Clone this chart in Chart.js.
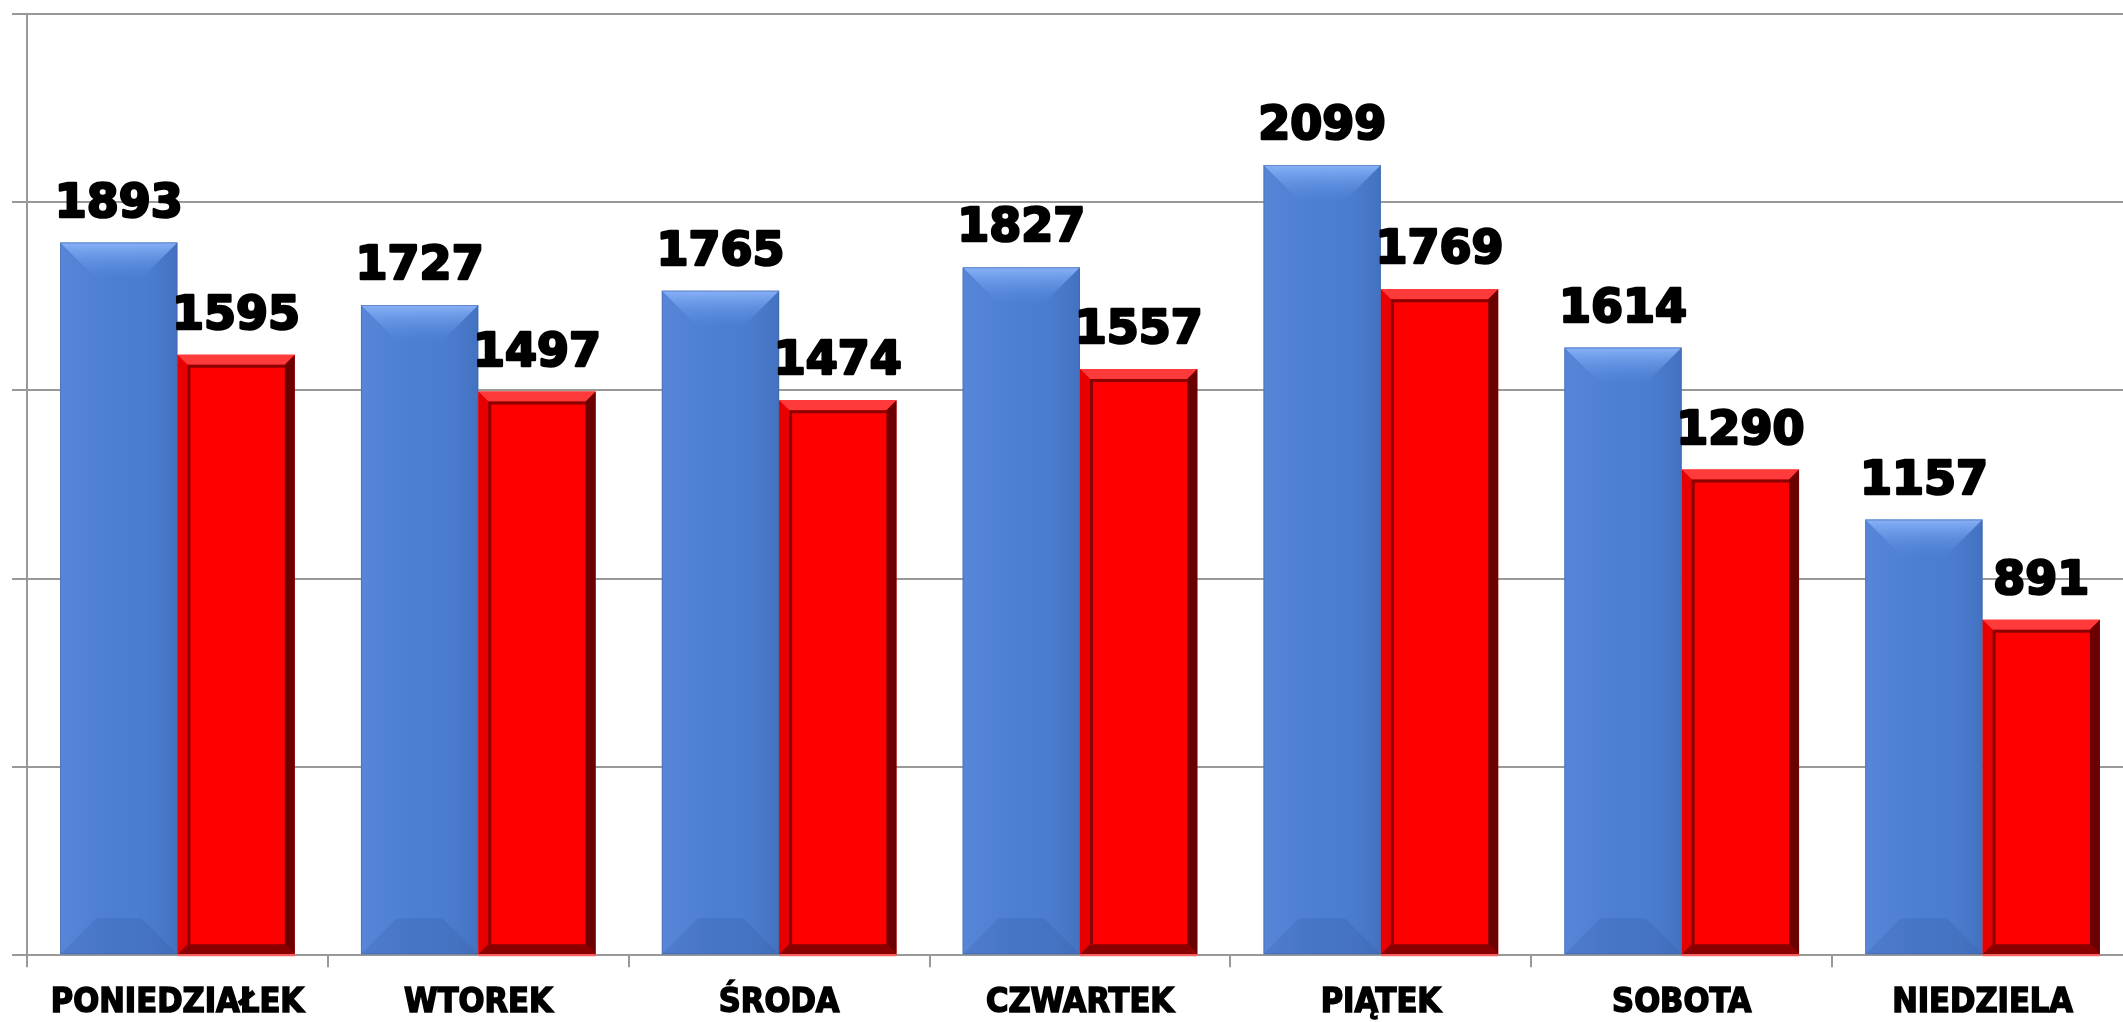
<!DOCTYPE html>
<html>
<head>
<meta charset="utf-8">
<script src="https://cdn.jsdelivr.net/npm/chart.js@4"></script>
<style>
  body { margin: 0; overflow: hidden; background: #fff; }
  #wrap { width: 2140px; height: 1041px; position: relative; }
</style>
</head>
<body>
<div id="wrap"><canvas id="myChart"></canvas></div>
<script>
const days = ["PONIEDZIAŁEK", "WTOREK", "ŚRODA", "CZWARTEK", "PIĄTEK", "SOBOTA", "NIEDZIELA"];
const blueValues = [1893, 1727, 1765, 1827, 2099, 1614, 1157];
const redValues = [1595, 1497, 1474, 1557, 1769, 1290, 891];

const poly = (ctx, pts, fill) => {
  ctx.fillStyle = fill;
  ctx.beginPath();
  pts.forEach((pt, k) => k ? ctx.lineTo(pt[0], pt[1]) : ctx.moveTo(pt[0], pt[1]));
  ctx.closePath();
  ctx.fill();
};

// draws the bevel look on top of plain bars
const bevelPlugin = {
  id: "bevel",
  afterDatasetsDraw(chart) {
    const ctx = chart.ctx;
    chart.data.datasets.forEach((ds, i) => {
      chart.getDatasetMeta(i).data.forEach(bar => {
        const p = bar.getProps(["x", "y", "base", "width"], true);
        const l = p.x - p.width / 2, r = p.x + p.width / 2, t = p.y, b = p.base;
        ctx.save();
        if (i === 0) {
          const d = 36;
          // soft left-to-right shading
          let h = ctx.createLinearGradient(l, 0, r, 0);
          h.addColorStop(0, "rgba(110,150,230,0.35)");
          h.addColorStop(0.5, "rgba(110,150,230,0)");
          h.addColorStop(1, "rgba(30,60,120,0.18)");
          ctx.fillStyle = h;
          ctx.fillRect(l, t, p.width, b - t);
          // top face
          let g = ctx.createLinearGradient(0, t, 0, t + d);
          g.addColorStop(0, "#88b2f8");
          g.addColorStop(1, "rgba(90,140,225,0.05)");
          poly(ctx, [[l, t], [r, t], [r - d, t + d], [l + d, t + d]], g);
          // bottom face
          poly(ctx, [[l, b], [l + d, b - d], [r - d, b - d], [r, b]], "rgba(30,60,120,0.12)");
          ctx.strokeStyle = "rgba(70,100,160,0.5)";
          ctx.lineWidth = 1;
          ctx.strokeRect(l + 0.5, t + 0.5, p.width - 1, b - t - 1);
        } else {
          const d = 10;
          poly(ctx, [[l, t], [r, t], [r - d, t + d], [l + d, t + d]], "#ff3a3a");
          poly(ctx, [[l, t], [l + d, t + d], [l + d, b - d], [l, b]], "#e80000");
          poly(ctx, [[r, t], [r - d, t + d], [r - d, b - d], [r, b]], "#6a0000");
          poly(ctx, [[l, b], [l + d, b - d], [r - d, b - d], [r, b]], "#8a0000");
          ctx.strokeStyle = "rgba(100,0,0,0.75)";
          ctx.lineWidth = 3;
          ctx.beginPath();
          ctx.moveTo(l + d + 1.5, b - d);
          ctx.lineTo(l + d + 1.5, t + d + 1.5);
          ctx.lineTo(r - d, t + d + 1.5);
          ctx.stroke();
          ctx.strokeStyle = "#ff6060";
          ctx.lineWidth = 2;
          ctx.beginPath(); ctx.moveTo(l, b + 1); ctx.lineTo(r, b + 1); ctx.stroke();
        }
        ctx.restore();
      });
    });
  }
};

// value labels above bars
const valueLabels = {
  id: "valueLabels",
  afterDatasetsDraw(chart) {
    const ctx = chart.ctx;
    ctx.save();
    ctx.font = "bold 46px 'DejaVu Sans', sans-serif";
    ctx.fillStyle = "#000";
    ctx.strokeStyle = "#000";
    ctx.lineWidth = 2.5;
    ctx.lineJoin = "round";
    ctx.textAlign = "center";
    ctx.textBaseline = "alphabetic";
    chart.data.datasets.forEach((ds, i) => {
      chart.getDatasetMeta(i).data.forEach((bar, j) => {
        ctx.strokeText(ds.data[j], bar.x, bar.y - 26);
        ctx.fillText(ds.data[j], bar.x, bar.y - 26);
      });
    });
    ctx.restore();
  }
};

const config = {
  type: "bar",
  data: {
    labels: days,
    datasets: [
      { label: "A", data: blueValues, backgroundColor: "#4b7dd0", borderWidth: 0 },
      { label: "B", data: redValues, backgroundColor: "#ff0000", borderWidth: 0 }
    ]
  },
  options: {
    responsive: true,
    maintainAspectRatio: false,
    animation: false,
    layout: { padding: { left: 12, right: 7, top: 14, bottom: 1 } },
    datasets: { bar: { categoryPercentage: 0.78, barPercentage: 1.0 } },
    plugins: { legend: { display: false }, tooltip: { enabled: false } },
    scales: {
      x: {
        grid: { drawOnChartArea: false, drawTicks: true, tickLength: 12, color: "#999", lineWidth: 2 },
        border: { display: true, color: "#999", width: 2 },
        ticks: {
          color: "#000",
          padding: 16,
          maxRotation: 0,
          textStrokeColor: "#000",
          textStrokeWidth: 1.5,
          font: { family: "'DejaVu Sans Condensed', 'DejaVu Sans', sans-serif", size: 34, weight: "bold" }
        }
      },
      y: {
        min: 0,
        max: 2500,
        grid: { color: "#999", lineWidth: 2, tickLength: 15 },
        border: { display: true, color: "#999", width: 2 },
        ticks: { display: false, stepSize: 500 }
      }
    }
  },
  plugins: [bevelPlugin, valueLabels]
};

const myChart = new Chart(document.getElementById("myChart"), config);
</script>
</body>
</html>
